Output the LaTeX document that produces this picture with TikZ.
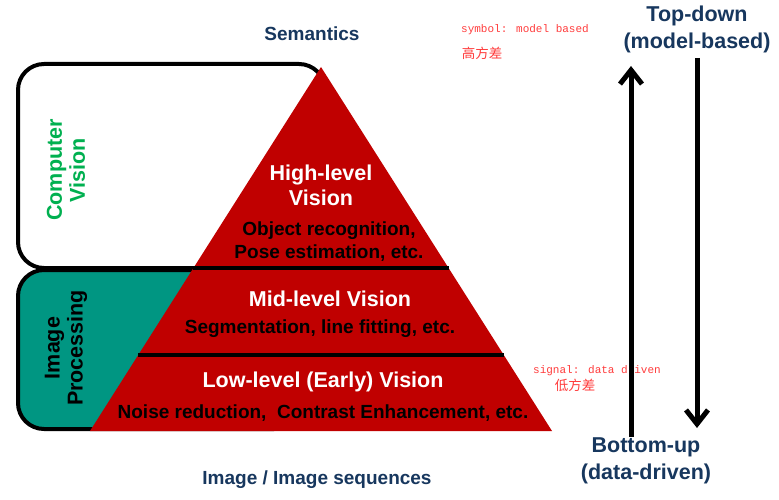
\documentclass[tikz,border=0pt]{standalone}
\usepackage{fontspec}
\setmainfont{Liberation Sans}
\newfontfamily\notemono{Liberation Mono}
\newfontfamily\notecjk{Noto Sans CJK SC}
\usetikzlibrary{arrows.meta}
\definecolor{pyred}{RGB}{192,0,0}
\definecolor{ipteal}{RGB}{0,150,130}
\definecolor{navy}{RGB}{23,55,94}
\definecolor{cvgreen}{RGB}{0,176,80}
\definecolor{notered}{RGB}{255,60,60}
\newcommand{\fs}[2]{\fontsize{#1}{#2}\selectfont}
\begin{document}
\begin{tikzpicture}[x=1pt,y=-1pt,
  field/.style={draw=black,line width=4pt,rounded corners=26pt},
  divider/.style={line width=4pt},
  title/.style={font=\bfseries\fs{21.5}{25},text=white,align=center},
  detail/.style={font=\bfseries\fs{19}{23},text=black,align=center},
  caption/.style={font=\bfseries\fs{19}{22},text=navy,align=center},
  flowlab/.style={font=\bfseries\fs{21.5}{27},text=navy,align=center},
  sidelab/.style={font=\bfseries\fs{21.5}{23},align=center,rotate=90},
  note/.style={font=\notemono\fs{11}{13},text=notered},
  notecn/.style={font=\notecjk\fs{13.5}{15},text=notered},
  flow/.style={line width=5pt,-{Straight Barb[length=14pt,width=22pt]}}]
\useasboundingbox (0,0) rectangle (779,500);
\fill[white] (0,0) rectangle (779,500);

% background fields
\draw[field,fill=white] (18,64) rectangle (325,268);
\draw[field,fill=ipteal] (18,270) rectangle (300,429);

% pyramid
\fill[pyred] (321,67) -- (552,431) -- (90,431) -- cycle;
\draw[divider] (193,268) -- (449,268);
\draw[divider] (138,355) -- (504,355);

% labels inside the pyramid
\node[title] (hl) at (321,185) {High-level\\Vision};
\node[detail] (hlt) at (329,242) {Object recognition,\\Pose estimation, etc.};
\node[title] (ml) at (330,299) {Mid-level Vision};
\node[detail] (mlt) at (320,329) {Segmentation, line fitting, etc.};
\node[title] (ll) at (323,382) {Low-level (Early) Vision};
\node[detail] (llt) at (323,413) {Noise reduction,\ \ Contrast Enhancement, etc.};

% side labels
\node[sidelab,text=cvgreen] (cv) at (66,170) {Computer\\Vision};
\node[sidelab,text=black] (ip) at (66,348) {Image\\Processing};

% captions
\node[caption] (sem) at (312,34) {Semantics};
\node[caption] (img) at (317,480) {Image / Image sequences};

% notes
\node[note] (sym) at (525,30) {symbol: model based};
\node[notecn] (hv) at (482,53) {高方差};
\node[note] (sig) at (597,371) {signal: data driven};
\node[notecn] (lv) at (575,385) {低方差};

% processing directions
\node[flowlab] (td) at (697,29) {Top-down\\(model-based)};
\node[flowlab] (bu) at (646,461) {Bottom-up\\(data-driven)};
\coordinate (upfoot) at (631,437);
\coordinate (uphead) at (631,66);
\coordinate (dnfoot) at (697,58);
\coordinate (dnhead) at (697,428);
\draw[flow] (upfoot) -- (uphead);
\draw[flow] (dnfoot) -- (dnhead);
\end{tikzpicture}
\end{document}
